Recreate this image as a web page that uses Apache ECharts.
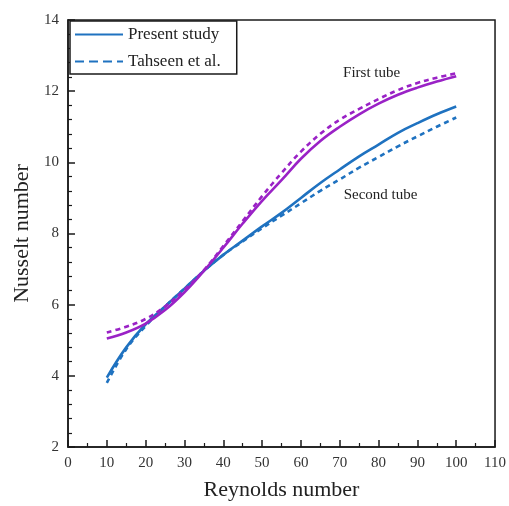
<!DOCTYPE html>
<html>
<head>
<meta charset="utf-8">
<script src="https://cdn.jsdelivr.net/npm/echarts@6/dist/echarts.min.js"></script>
<style>
  html, body { margin: 0; padding: 0; background: #fff; overflow: hidden; }
  #chart { width: 509px; height: 506px; }
</style>
</head>
<body>
<div id="chart"></div>
<script>
// Reynolds numbers at which the Nusselt number is sampled
const reynolds = [10, 15, 20, 25, 30, 35, 40, 45, 50, 55, 60, 65, 70, 75, 80, 85, 90, 95, 100];

// Present study
const firstTubePresent  = [5.05, 5.22, 5.47, 5.85, 6.35, 6.95, 7.6, 8.28, 8.92, 9.5, 10.1, 10.6, 11.0, 11.35, 11.65, 11.9, 12.1, 12.27, 12.42];
const secondTubePresent = [3.95, 4.8, 5.45, 5.95, 6.45, 6.95, 7.4, 7.8, 8.2, 8.58, 9.0, 9.42, 9.8, 10.17, 10.5, 10.83, 11.1, 11.35, 11.57];

// Tahseen et al.
const firstTubeTahseen  = [5.22, 5.38, 5.6, 5.95, 6.42, 6.97, 7.65, 8.35, 9.05, 9.7, 10.3, 10.8, 11.2, 11.5, 11.78, 12.03, 12.23, 12.38, 12.5];
const secondTubeTahseen = [3.8, 4.75, 5.4, 5.95, 6.45, 6.95, 7.4, 7.78, 8.15, 8.5, 8.85, 9.2, 9.52, 9.85, 10.15, 10.45, 10.73, 11.0, 11.26];

// Curve annotations: [Reynolds, Nusselt, text]
const annotations = [
  [78.2, 12.5, 'First tube'],
  [80.5, 9.08, 'Second tube']
];

const BLUE = '#1f72c0';
const PURPLE = '#9a22c6';
const SERIF = '"Liberation Serif", "DejaVu Serif", serif';

const pairs = ys => reynolds.map((x, i) => [x, ys[i]]);

const chart = echarts.init(document.getElementById('chart'), null, { renderer: 'canvas', width: 509, height: 506 });

function lineSeries(name, ys, color, type) {
  return {
    name: name,
    type: 'line',
    data: pairs(ys),
    smooth: 0.4,
    symbol: 'none',
    lineStyle: { color: color, width: 2.6, type: type === 'dashed' ? [5, 4] : 'solid' },
    itemStyle: { color: color },
    z: 3
  };
}

const option = {
  animation: false,
  backgroundColor: '#fff',
  grid: {
    left: 68, right: 10, top: 20, bottom: 54,
    show: true, borderColor: '#1a1a1a', borderWidth: 1.5, backgroundColor: 'transparent'
  },
  legend: {
    data: [
      { name: 'Present study' },
      { name: 'Tahseen et al.', lineStyle: { type: [9, 5] } }
    ],
    orient: 'vertical',
    left: 70, top: 21,
    itemWidth: 48, itemHeight: 12, itemGap: 10,
    padding: [5, 16, 4, 4],
    borderColor: '#1a1a1a', borderWidth: 1.5,
    backgroundColor: '#fff',
    itemStyle: { color: 'rgba(0,0,0,0)', borderWidth: 0 },
    textStyle: { fontFamily: SERIF, fontSize: 17, color: '#222' }
  },
  xAxis: {
    type: 'value',
    min: 0, max: 110, interval: 10,
    name: 'Reynolds number',
    nameLocation: 'middle', nameGap: 32,
    nameTextStyle: { fontFamily: SERIF, fontSize: 22, color: '#222' },
    axisLine: { show: true, lineStyle: { color: '#1a1a1a', width: 1.5 } },
    axisTick: { show: true, inside: true, length: 7, lineStyle: { color: '#1a1a1a', width: 1.5 } },
    minorTick: { show: true, splitNumber: 2, length: 4, lineStyle: { color: '#1a1a1a', width: 1.2 } },
    axisLabel: { fontFamily: SERIF, fontSize: 15, color: '#333', margin: 9 },
    splitLine: { show: false }
  },
  yAxis: {
    type: 'value',
    min: 2, max: 14, interval: 2,
    name: 'Nusselt number',
    nameLocation: 'middle', nameGap: 32,
    nameTextStyle: { fontFamily: SERIF, fontSize: 22, color: '#222' },
    axisLine: { show: true, lineStyle: { color: '#1a1a1a', width: 1.5 } },
    axisTick: { show: true, inside: true, length: 7, lineStyle: { color: '#1a1a1a', width: 1.5 } },
    minorTick: { show: true, splitNumber: 5, length: 4, lineStyle: { color: '#1a1a1a', width: 1.2 } },
    axisLabel: { fontFamily: SERIF, fontSize: 15, color: '#333', margin: 9 },
    splitLine: { show: false }
  },
  series: [
    lineSeries('Present study', secondTubePresent, BLUE, 'solid'),
    lineSeries('Tahseen et al.', secondTubeTahseen, BLUE, 'dashed'),
    lineSeries('First tube (present)', firstTubePresent, PURPLE, 'solid'),
    lineSeries('First tube (Tahseen et al.)', firstTubeTahseen, PURPLE, 'dashed')
  ]
};

chart.setOption(option);

// Place curve labels at their data coordinates
chart.setOption({
  graphic: annotations.map(([x, y, text]) => {
    const p = chart.convertToPixel({ gridIndex: 0 }, [x, y]);
    return {
      type: 'text',
      x: p[0], y: p[1],
      style: {
        text: text,
        font: '15px ' + SERIF,
        fill: '#222',
        align: 'center',
        verticalAlign: 'middle'
      },
      z: 10
    };
  })
});
</script>
</body>
</html>
